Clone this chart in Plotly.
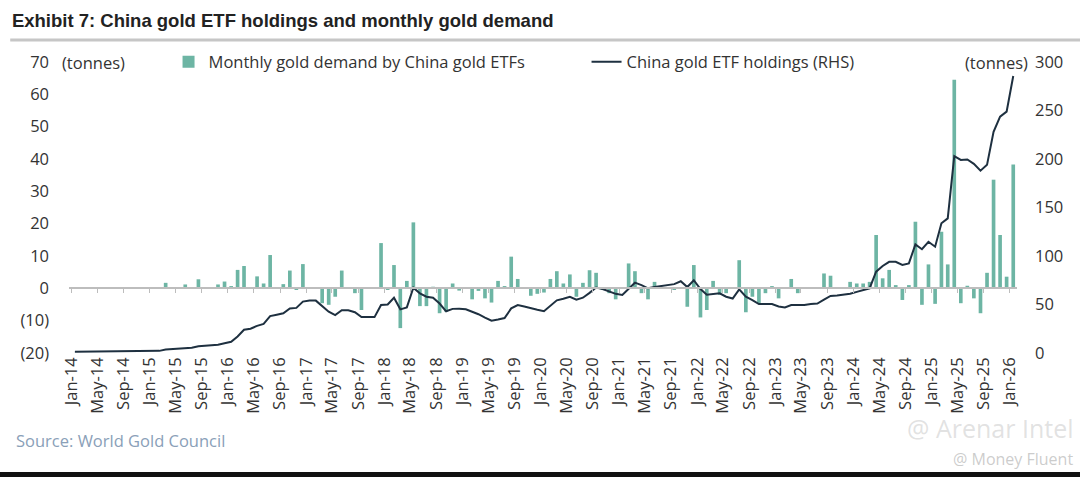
import pandas as pd
import plotly.graph_objects as go

# Meses: Jan-14 a Jan-26
meses = pd.date_range("2014-01-01", "2026-01-01", freq="MS").strftime("%Y-%m-%d").tolist()

# Demanda mensal (toneladas)
demanda_mensal = [
    0, 0, 0, 0, 0, 0, 0, 0, 0, 0, 0, 0,                                  # 2014
    0, 0, 1.7, 0, 0, 1.2, 0, 2.8, 0, 0, 1.2, 2.1,                        # 2015
    0.7, 5.7, 6.9, 0, 3.7, 1.5, 10.3, 0, 1.3, 5.5, -0.5, 7.5,            # 2016
    0.3, 0, -4.6, -5.1, -2.6, 5.5, 0, -1.5, -6.7, 0.3, 0, 14,            # 2017
    -0.5, 7.2, -12.3, 2.3, 20.4, -5.5, -5.5, 0.5, -7.7, -7.2, 1.5, -0.7, # 2018
    0, -3.4, -0.8, -3.1, -4.4, 2.3, 0.7, 9.8, 2.9, 0, -2.3, -1.7,        # 2019
    -1.3, 2.9, 5.3, 1.5, 4.3, -2.6, 1.7, 5.6, 4.8, -0.5, -1.5, -3.4,     # 2020
    0.3, 7.7, 5.3, -1.5, -3.4, 2, 0.5, 0, -0.3, 0.3, -5.7, 7.2,          # 2021
    -9, -6.7, 2.3, -2, -1.5, 0, 8.7, -7.4, -2.6, -4.6, -1.5, 0.7,        # 2022
    -3.1, 0, 2.9, -1.5, 0, 0.3, 0.3, 4.6, 3.9, 0, 0, 2,                  # 2023
    1.5, 1.5, 2, 16.5, 3.1, 5.7, 1, -3.6, 1, 20.6, -5.1, 7.4,            # 2024
    -4.8, 17.5, 7.4, 64.5, -4.6, 0.8, -3.1, -7.7, 4.8, 33.6, 16.5, 3.6,  # 2025
    38.3,                                                                # 2026
]

# Estoque dos ETFs (toneladas, eixo direito)
estoque_etf = [
    1.2, 1.3, 1.3, 1.4, 1.5, 1.5, 1.6, 1.7, 1.8, 1.9, 2.0, 2.0,
    2.1, 2.2, 3.5, 4, 4.2, 4.8, 5.5, 7, 7.3, 7.5, 8.5, 10,
    11.5, 17, 24, 25, 28, 30, 38, 39.5, 41, 46, 46.5, 53,
    54, 54, 48.5, 42.6, 39, 44, 44, 42, 37, 36.7, 37, 49.5,
    50, 57, 45, 47, 67.3, 61.5, 58, 57, 51, 43, 45.5, 45.7,
    45, 42.5, 40, 36.5, 33.3, 34.5, 36, 46, 49.5, 48, 46, 44.5,
    43, 49, 54.3, 56, 58, 55, 57, 62, 67.5, 66, 63.5, 61,
    59.8, 66.7, 72.5, 70, 66.7, 68, 69, 70, 71, 74, 68, 75,
    66, 60, 61, 61.5, 58, 56.2, 65.6, 58, 54.6, 50.5, 50.5, 50.5,
    48, 47, 49.5, 49.5, 49.5, 50.5, 51, 55, 58.8, 59.3, 59.8, 61,
    63, 64.5, 66.7, 83.8, 89.7, 94, 94, 90.7, 92.4, 112, 107, 114.7,
    109.6, 133.7, 138.8, 203, 199, 199.5, 195, 188, 194, 228, 243.6, 248.8,
    285.6,
]

ticks_esq = [70, 60, 50, 40, 30, 20, 10, 0, -10, -20]
rotulos_esq = ["70", "60", "50", "40", "30", "20", "10", "0", "(10)", "(20)"]
ticks_dir = [0, 50, 100, 150, 200, 250, 300]

fonte = "Open Sans"
tam = 16.5
cor_texto = "#333333"
faixa_x = ["2013-12-20", "2026-02-03"]

fig = go.Figure()

fig.add_trace(go.Bar(
    x=meses, y=demanda_mensal,
    xperiod="M1", xperiodalignment="middle",
    name="Monthly gold demand by China gold ETFs",
    marker_color="#6db5a4", marker_line_width=0,
))

fig.add_trace(go.Scatter(
    x=meses, y=estoque_etf,
    xperiod="M1", xperiodalignment="middle",
    xaxis="x2", yaxis="y2", mode="lines",
    name="China gold ETF holdings (RHS)",
    line=dict(color="#1e3040", width=2),
))

fig.update_layout(
    width=1080, height=477,
    margin=dict(l=69, r=63, t=62, b=124, autoexpand=False),
    plot_bgcolor="white", paper_bgcolor="white",
    font=dict(family=fonte, size=tam, color=cor_texto),
    bargap=0.42,
    showlegend=True,
    legend=dict(orientation="h", x=0.105, y=1.0, xanchor="left", yanchor="middle",
                bgcolor="rgba(0,0,0,0)", font=dict(size=tam),
                entrywidth=373, entrywidthmode="pixels"),
    title=dict(text="<b>Exhibit 7: China gold ETF holdings and monthly gold demand</b>",
               x=0.011, xanchor="left", xref="container",
               y=0.958, yanchor="middle", yref="container", pad=dict(l=0, t=0, b=0),
               font=dict(family="Liberation Sans", size=18.5, color="#222222")),
    xaxis=dict(type="date", range=faixa_x, tick0="2014-01-01", dtick="M4",
               tickformat="%b-%y", tickangle=-90, showgrid=False, showline=False,
               ticks="", automargin=False, tickfont=dict(size=tam, color=cor_texto)),
    xaxis2=dict(type="date", range=faixa_x, overlaying="x", anchor="free",
                position=20 / 90, tick0="2014-01-01", dtick="M4",
                showline=True, linecolor="#bdbdbd", linewidth=1.5,
                ticks="outside", ticklen=4, tickcolor="#bdbdbd",
                showticklabels=False, showgrid=False),
    yaxis=dict(range=[-20, 70], tickvals=ticks_esq, ticktext=rotulos_esq,
               showgrid=False, zeroline=False, showline=False, automargin=False,
               ticklabelstandoff=19, tickfont=dict(size=tam, color=cor_texto)),
    yaxis2=dict(range=[0, 300], tickvals=ticks_dir, overlaying="y", side="right",
                anchor="x", showgrid=False, zeroline=False, showline=False,
                automargin=False,
                ticklabelstandoff=17, tickfont=dict(size=tam, color=cor_texto)),
)

# Linha cinza abaixo do titulo e faixa escura no rodape
fig.add_shape(type="line", xref="paper", yref="paper", x0=-0.062, x1=1.07,
              y0=1.0756, y1=1.0756, line=dict(color="#c6c6c6", width=3))
fig.add_shape(type="rect", xref="paper", yref="paper", x0=-0.08, x1=1.08,
              y0=-0.45, y1=-0.409, fillcolor="#111111", line_width=0)

fig.add_annotation(text="(tonnes)", xref="paper", yref="paper", x=-0.009, y=1.0,
                   xanchor="left", yanchor="middle", showarrow=False)
fig.add_annotation(text="(tonnes)", xref="paper", yref="paper", x=1.0137, y=1.0,
                   xanchor="right", yanchor="middle", showarrow=False)
fig.add_annotation(text="Source: World Gold Council", xref="paper", yref="paper",
                   x=-0.058, y=-0.302, xanchor="left", yanchor="middle", showarrow=False,
                   font=dict(size=tam, color="#8aa0b8"))

# Marcas d'agua
fig.add_annotation(text="@ Arenar Intel", xref="paper", yref="paper", x=1.061, y=-0.258,
                   xanchor="right", yanchor="middle", showarrow=False,
                   font=dict(size=25, color="rgba(190,190,190,0.45)"))
fig.add_annotation(text="@ Money Fluent", xref="paper", yref="paper", x=1.061, y=-0.365,
                   xanchor="right", yanchor="middle", showarrow=False,
                   font=dict(size=16, color="rgba(170,170,170,0.6)"))

fig.write_html("out.html", config={"displayModeBar": False},
               post_script="document.body.style.margin='0';document.body.style.padding='0';")
